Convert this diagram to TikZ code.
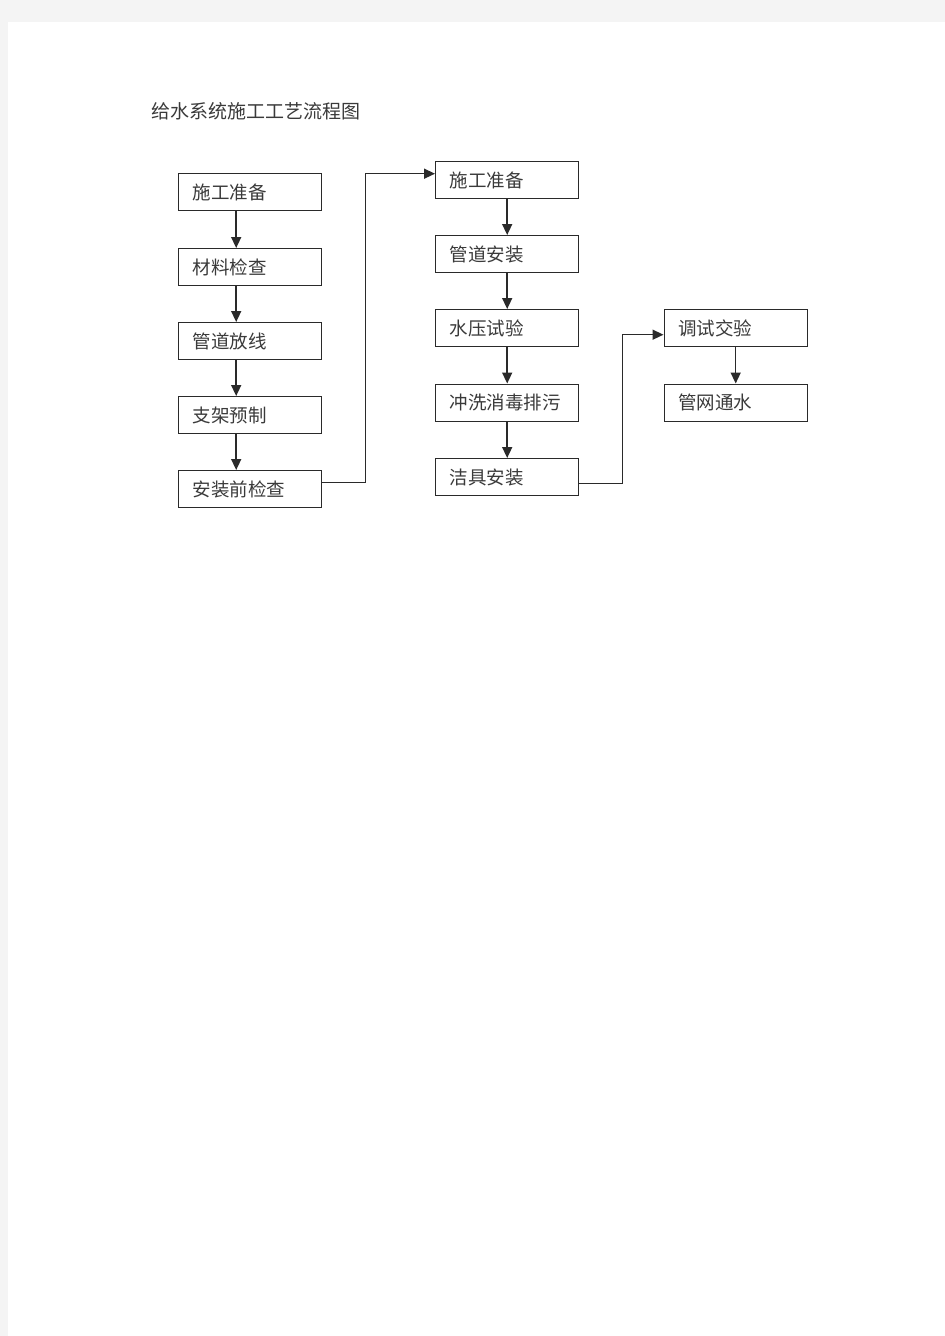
\documentclass[tikz,border=0pt]{standalone}
\usepackage{fontspec}
\newfontfamily\cjk{Noto Sans CJK SC}
\usetikzlibrary{arrows.meta}
\definecolor{pagegray}{HTML}{F4F4F4}
\definecolor{linecol}{HTML}{2A2A2A}
\definecolor{textcol}{HTML}{3A3A3A}
\tikzset{
  stepbox/.style={draw=linecol, line width=1.4pt, rectangle, anchor=north west,
    minimum width=143pt, minimum height=37pt, text width=115pt, inner xsep=14pt,
    inner ysep=0pt, align=left, font=\cjk\fontsize{18.5}{20}\selectfont, text=textcol},
  flow/.style={draw=linecol, line width=1.5pt, -{Triangle[length=11pt,width=10pt]}},
  titletext/.style={anchor=west, inner sep=0pt, font=\cjk\fontsize{19}{22}\selectfont, text=textcol}
}
\begin{document}
\begin{tikzpicture}[x=1pt,y=-1pt]
\useasboundingbox (0,0) rectangle (945,1336);
\fill[pagegray] (0,0) rectangle (945,1336);
\fill[white] (8,22) rectangle (945,1336);
\node[titletext] (title) at (151,111) {给水系统施工工艺流程图};
% left column
\node[stepbox] (L1) at (178,173) {施工准备};
\node[stepbox] (L2) at (178,248) {材料检查};
\node[stepbox] (L3) at (178,322) {管道放线};
\node[stepbox] (L4) at (178,396) {支架预制};
\node[stepbox] (L5) at (178,470) {安装前检查};
% middle column
\node[stepbox] (M1) at (435,161) {施工准备};
\node[stepbox] (M2) at (435,235) {管道安装};
\node[stepbox] (M3) at (435,309) {水压试验};
\node[stepbox] (M4) at (435,383.5) {冲洗消毒排污};
\node[stepbox] (M5) at (435,458) {洁具安装};
% right column
\node[stepbox] (R1) at (663.5,309) {调试交验};
\node[stepbox] (R2) at (663.5,383.5) {管网通水};
% connectors
\draw[flow] ([xshift=-14pt]L1.south) -- ([xshift=-14pt]L2.north);
\draw[flow] ([xshift=-14pt]L2.south) -- ([xshift=-14pt]L3.north);
\draw[flow] ([xshift=-14pt]L3.south) -- ([xshift=-14pt]L4.north);
\draw[flow] ([xshift=-14pt]L4.south) -- ([xshift=-14pt]L5.north);
\draw[flow] (M1) -- (M2);
\draw[flow] (M2) -- (M3);
\draw[flow] (M3) -- (M4);
\draw[flow] (M4) -- (M5);
\draw[flow] (R1) -- (R2);
\draw[flow] ([yshift=6.5pt]L5.east) -- ++(43,0) |- ([yshift=6.5pt]M1.west);
\draw[flow] ([yshift=-6.5pt]M5.east) -- ++(43,0) |- ([yshift=-6.5pt]R1.west);
\end{tikzpicture}
\end{document}
